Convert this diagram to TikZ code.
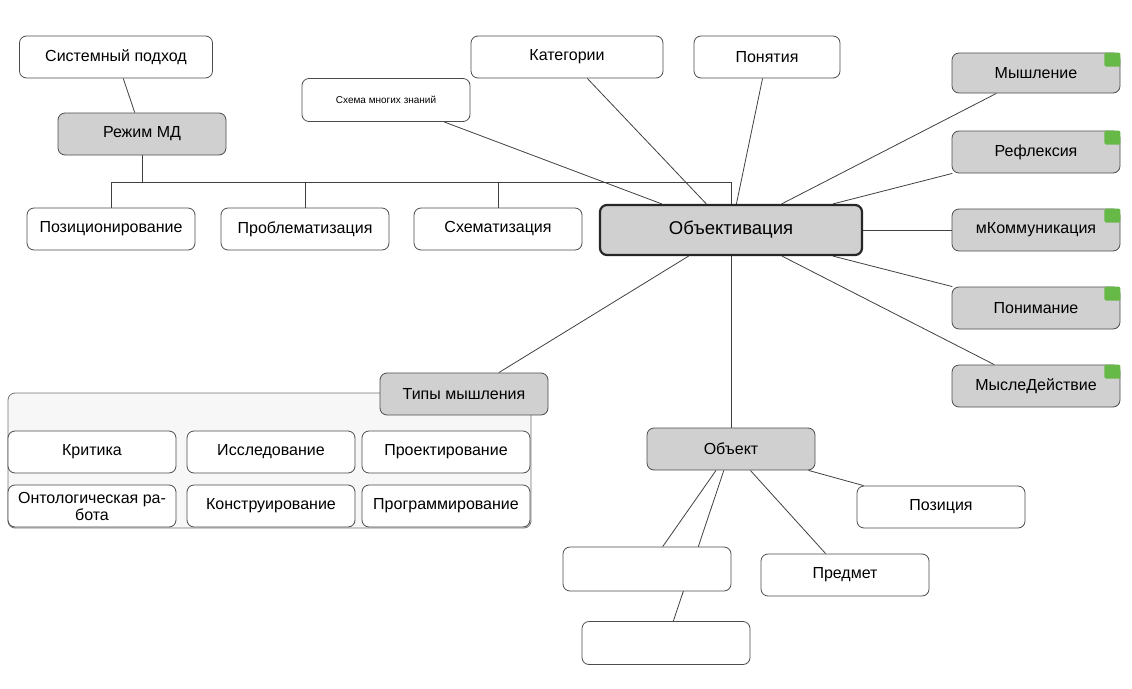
\documentclass[tikz,border=0pt]{standalone}
\usepackage{fontspec}
\setmainfont{Liberation Sans}
\usetikzlibrary{positioning, backgrounds}

\definecolor{markgreen}{HTML}{66B947}
\definecolor{boxgray}{HTML}{D0D0D0}

\begin{document}
\begin{tikzpicture}[
            x = 1pt, y = -1pt,
            box/.style = {
                draw = black!70, fill = white,
                line width = 0.8pt,
                rounded corners = 7pt,
                align = center,
                minimum width = 168pt,
                minimum height = 42pt,
                inner sep = 2pt,
                font = \fontsize{16}{17}\selectfont,
            },
            graybox/.style = {box, fill = boxgray},
            link/.style = {draw = black!75, line width = 0.8pt},
        ]
        \useasboundingbox (0,0) rectangle (1132,688);

        % Центр
        \node[graybox, line width = 2.2pt, draw = black!85, minimum width = 262pt, minimum height = 50pt,
            font = \fontsize{18.5}{20}\selectfont] (objektiv) at (731,230) {Объективация};

        % Режим МД
        \node[box, minimum width = 193pt] (sist_podhod) at (116,57) {Системный подход};
        \node[graybox] (rezhim_md) at (142,134) {Режим МД};
        \node[box] (pozic) at (111,229) {Позиционирование};
        \node[box] (problem) at (305,229) {Проблематизация};
        \node[box] (shemat) at (498,229) {Схематизация};
        \coordinate (bus) at (0,182);

        % Сверху
        \node[box, minimum height = 43pt, font = \fontsize{10}{11}\selectfont] (shema_znan) at (386,100) {Схема многих знаний};
        \node[box, minimum width = 192pt] (kategor) at (567,57) {Категории};
        \node[box, minimum width = 146pt] (ponyat) at (767,57) {Понятия};

        % Справа
        \node[graybox, minimum height = 40pt] (myshl) at (1036,73) {Мышление};
        \node[graybox] (reflex) at (1036,152) {Рефлексия};
        \node[graybox] (kommun) at (1036,230) {мКоммуникация};
        \node[graybox] (ponim) at (1036,308) {Понимание};
        \node[graybox] (mysl_deistv) at (1036,386) {МыслеДействие};
        \foreach \n in {myshl, reflex, kommun, ponim, mysl_deistv}
            \fill[markgreen, rounded corners = 1.5pt] ([shift={(-16pt,-14pt)}]\n.north east) rectangle (\n.north east);

        % Типы мышления
        \node[draw = black!55, fill = black!3, line width = 0.8pt, rounded corners = 7pt,
            minimum width = 523pt, minimum height = 135pt] (tipy_frame) at (269.5,460.5) {};
        \node[graybox, minimum height = 42pt] (tipy) at (464,394) {Типы мышления};
        \node[box] (kritika) at (92,452) {Критика};
        \node[box] (issled) at (271,452) {Исследование};
        \node[box] (proekt) at (446,452) {Проектирование};
        \node[box] (ontolog) at (92,506) {Онтологическая ра-\\бота};
        \node[box] (konstr) at (271,506) {Конструирование};
        \node[box] (program) at (446,506) {Программирование};

        % Объект
        \node[graybox] (objekt) at (731,449) {Объект};
        \node[box] (pozicia) at (941,507) {Позиция};
        \node[box] (predmet) at (845,575) {Предмет};
        \node[box, minimum height = 44pt] (obj_a) at (647,569) {};
        \node[box, minimum height = 43pt] (obj_b) at (666,643) {};

        % Связи
        \begin{scope}[on background layer]
            \path[link]
                (sist_podhod) edge (rezhim_md)
                (shema_znan) edge (objektiv)
                (kategor) edge (objektiv)
                (ponyat) edge (objektiv)
                (myshl) edge (objektiv)
                (reflex) edge (objektiv)
                (kommun) edge (objektiv)
                (ponim) edge (objektiv)
                (mysl_deistv) edge (objektiv)
                (tipy) edge (objektiv)
                (objekt) edge (objektiv)
                (objekt) edge (pozicia)
                (objekt) edge (predmet)
                (objekt) edge (obj_a)
                (objekt) edge (obj_b);

            \draw[link] (rezhim_md.south) -- (rezhim_md.south |- bus) -| (pozic.north);
            \draw[link] (rezhim_md.south |- bus) -| (problem.north);
            \draw[link] (rezhim_md.south |- bus) -| (shemat.north);
            \draw[link] (rezhim_md.south |- bus) -| (objektiv.north);
        \end{scope}

    \end{tikzpicture}
\end{document}
